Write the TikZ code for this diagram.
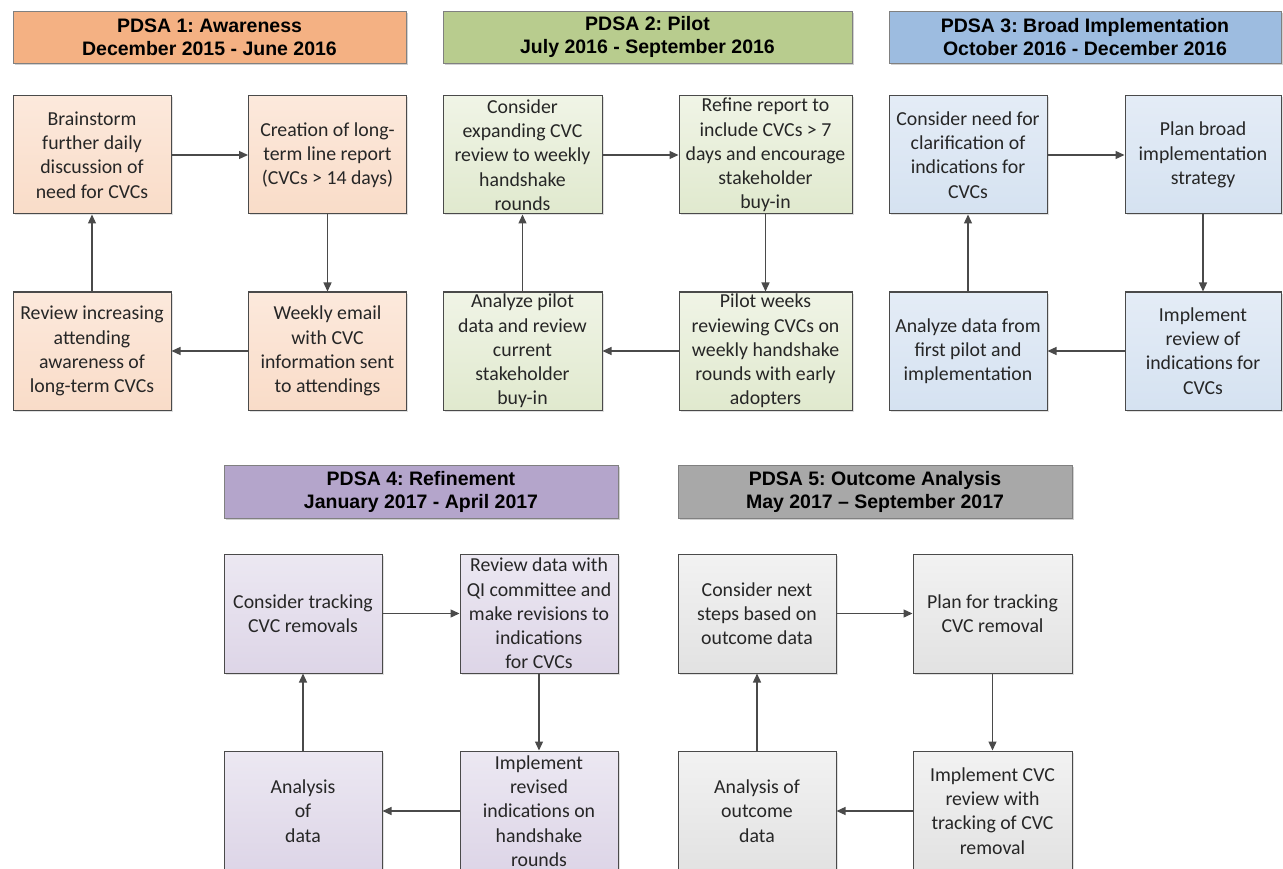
\documentclass[tikz,border=0pt]{standalone}
\usepackage{fontspec}
\newfontfamily\boxfont[Ligatures=TeX]{Carlito}
\newfontfamily\headfont[Ligatures=TeX]{Liberation Sans}
\usetikzlibrary{arrows.meta,shadows}
\frenchspacing
\definecolor{hOne}{HTML}{F4B183}
\definecolor{bOneT}{HTML}{FCE9DC}
\definecolor{bOneB}{HTML}{F9DCC8}
\definecolor{hTwo}{HTML}{B8CC8E}
\definecolor{bTwoT}{HTML}{F0F4E6}
\definecolor{bTwoB}{HTML}{E0E9CE}
\definecolor{hThree}{HTML}{9DBCE0}
\definecolor{bThreeT}{HTML}{E4ECF6}
\definecolor{bThreeB}{HTML}{D5E2F1}
\definecolor{hFour}{HTML}{B4A5CB}
\definecolor{bFourT}{HTML}{ECE8F2}
\definecolor{bFourB}{HTML}{DDD5E7}
\definecolor{hFive}{HTML}{A8A8A8}
\definecolor{bFiveT}{HTML}{F2F2F2}
\definecolor{bFiveB}{HTML}{E2E2E2}
\definecolor{edge}{HTML}{4A4A4A}
\definecolor{txt}{HTML}{262626}
\tikzset{
  header/.style={draw=edge!70, line width=0.8pt, minimum width=#1, minimum height=52pt,
    inner sep=0pt, align=center, font=\headfont\bfseries\fontsize{19.5}{23}\selectfont, text=black,
    drop shadow={shadow xshift=2pt, shadow yshift=-2pt, fill=black, opacity=0.18}},
  header/.default=393pt,
  stepbox/.style={draw=edge, line width=1pt, minimum width=#1, minimum height=118pt,
    inner sep=0pt, align=center, font=\boxfont\fontsize{19.8}{24.2}\selectfont, text=txt,
    drop shadow={shadow xshift=1.5pt, shadow yshift=-1.5pt, fill=black, opacity=0.12}},
  stepbox/.default=158pt,
  arr/.style={draw=edge, line width=1.3pt, -{Triangle[length=9pt,width=8pt]}},
}
\begin{document}
\begin{tikzpicture}[x=1pt,y=-1pt]
\useasboundingbox (0,0) rectangle (1283,869);
\fill[white] (0,0) rectangle (1283,869);
\clip (0,0) rectangle (1283,869);
% ---------------- PDSA 1
\node[header=393pt, fill=hOne] (h1) at (209.5,37) {PDSA 1: Awareness\\December 2015 - June 2016};
\node[stepbox, top color=bOneT, bottom color=bOneB] (p1a) at (92,155) {Brainstorm\\further daily\\discussion of\\need for CVCs};
\node[stepbox, top color=bOneT, bottom color=bOneB] (p1b) at (327.5,155) {Creation of long-\\term line report\\(CVCs > 14 days)};
\node[stepbox, top color=bOneT, bottom color=bOneB] (p1c) at (327.5,351) {Weekly email\\with CVC\\information sent\\to attendings};
\node[stepbox, top color=bOneT, bottom color=bOneB] (p1d) at (92,351) {Review increasing\\attending\\awareness of\\long-term CVCs};
\draw[arr] (p1a) -- (p1b);
\draw[arr] (p1b) -- (p1c);
\draw[arr] (p1c) -- (p1d);
\draw[arr] (p1d) -- (p1a);
% ---------------- PDSA 2
\node[header=409pt, fill=hTwo] (h2) at (647.5,37) {PDSA 2: Pilot\\July 2016 - September 2016};
\node[stepbox=159pt, top color=bTwoT, bottom color=bTwoB] (p2a) at (522.5,155) {Consider\\expanding CVC\\review to weekly\\handshake\\rounds};
\node[stepbox=173pt, top color=bTwoT, bottom color=bTwoB] (p2b) at (765.5,155) {Refine report to\\include CVCs > 7\\days and encourage\\stakeholder\\buy-in};
\node[stepbox=173pt, top color=bTwoT, bottom color=bTwoB] (p2c) at (765.5,351) {Pilot weeks\\reviewing CVCs on\\weekly handshake\\rounds with early\\adopters};
\node[stepbox=159pt, top color=bTwoT, bottom color=bTwoB] (p2d) at (522.5,351) {Analyze pilot\\data and review\\current\\stakeholder\\buy-in};
\draw[arr] (p2a) -- (p2b);
\draw[arr] (p2b) -- (p2c);
\draw[arr] (p2c) -- (p2d);
\draw[arr] (p2d) -- (p2a);
% ---------------- PDSA 3
\node[header=392pt, fill=hThree] (h3) at (1085,37) {PDSA 3: Broad Implementation\\October 2016 - December 2016};
\node[stepbox, top color=bThreeT, bottom color=bThreeB] (p3a) at (968,155) {Consider need for\\clarification of\\indications for\\CVCs};
\node[stepbox=156pt, top color=bThreeT, bottom color=bThreeB] (p3b) at (1203,155) {Plan broad\\implementation\\strategy};
\node[stepbox=156pt, top color=bThreeT, bottom color=bThreeB] (p3c) at (1203,351) {Implement\\review of\\indications for\\CVCs};
\node[stepbox, top color=bThreeT, bottom color=bThreeB] (p3d) at (968,351) {Analyze data from\\first pilot and\\implementation};
\draw[arr] (p3a) -- (p3b);
\draw[arr] (p3b) -- (p3c);
\draw[arr] (p3c) -- (p3d);
\draw[arr] (p3d) -- (p3a);
% ---------------- PDSA 4
\node[header=394pt, fill=hFour, minimum height=53pt] (h4) at (421,491.5) {PDSA 4: Refinement\\January 2017 - April 2017};
\node[stepbox, top color=bFourT, bottom color=bFourB, minimum height=119pt] (p4a) at (303,613.5) {Consider tracking\\CVC removals};
\node[stepbox, top color=bFourT, bottom color=bFourB, minimum height=119pt] (p4b) at (539,613.5) {Review data with\\QI committee and\\make revisions to\\indications\\for CVCs};
\node[stepbox, top color=bFourT, bottom color=bFourB, minimum height=120pt] (p4c) at (539,811) {Implement\\revised\\indications on\\handshake\\rounds};
\node[stepbox, top color=bFourT, bottom color=bFourB, minimum height=120pt] (p4d) at (303,811) {Analysis\\of\\data};
\draw[arr] (p4a) -- (p4b);
\draw[arr] (p4b) -- (p4c);
\draw[arr] (p4c) -- (p4d);
\draw[arr] (p4d) -- (p4a);
% ---------------- PDSA 5
\node[header=394pt, fill=hFive, minimum height=53pt] (h5) at (875,491.5) {PDSA 5: Outcome Analysis\\May 2017 \textendash{} September 2017};
\node[stepbox, top color=bFiveT, bottom color=bFiveB, minimum height=119pt] (p5a) at (757,613.5) {Consider next\\steps based on\\outcome data};
\node[stepbox=159pt, top color=bFiveT, bottom color=bFiveB, minimum height=119pt] (p5b) at (992.5,613.5) {Plan for tracking\\CVC removal};
\node[stepbox=159pt, top color=bFiveT, bottom color=bFiveB, minimum height=120pt] (p5c) at (992.5,811) {Implement CVC\\review with\\tracking of CVC\\removal};
\node[stepbox, top color=bFiveT, bottom color=bFiveB, minimum height=120pt] (p5d) at (757,811) {Analysis of\\outcome\\data};
\draw[arr] (p5a) -- (p5b);
\draw[arr] (p5b) -- (p5c);
\draw[arr] (p5c) -- (p5d);
\draw[arr] (p5d) -- (p5a);
\end{tikzpicture}
\end{document}
